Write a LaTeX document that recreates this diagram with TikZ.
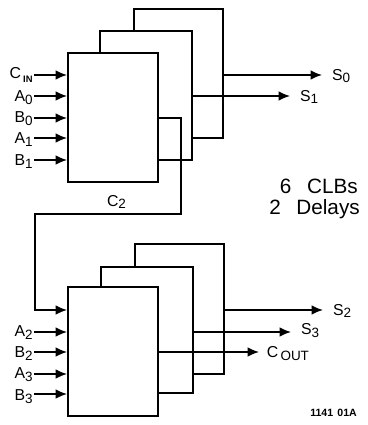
\documentclass[tikz,border=0pt]{standalone}
\usepackage{fontspec}
\setmainfont{Liberation Sans}
\usetikzlibrary{positioning,arrows.meta,calc}
\newcommand{\lowtxt}[2][-2.5pt]{\raisebox{#1}{\fontsize{11.5}{13}\selectfont #2}}

\begin{document}
\begin{tikzpicture}[
  x=0.03cm,y=-0.03cm,
  font=\fontsize{13.5}{15}\selectfont,
  >={Latex[length=3.4mm,width=2.9mm]},
  clb/.style={draw=black,line width=1.6pt,fill=white,inner sep=0pt,minimum width=2.7cm,minimum height=3.87cm},
  wire/.style={line width=1.5pt,black,line join=miter},
  flow/.style={wire,->},
  inlab/.style={anchor=east,inner xsep=1pt,inner ysep=0pt},
  outlab/.style={anchor=west,inner xsep=8.5pt,inner ysep=0pt},
  bigtxt/.style={anchor=east,inner sep=0pt,font=\fontsize{17.7}{20}\selectfont},
]
\useasboundingbox (0,0) rectangle (367,425);

% ---------- TOP BLOCK ----------
\node[clb] (clbA) at (113,117.5) {};
\coordinate (tA1) at (100,53);
\coordinate (tA2) at (134,31);
\coordinate (rA1) at (192,160);
\coordinate (rA2) at (223,138);

% ---------- BOTTOM BLOCK ----------
\node[clb] (clbB) at (113,351.5) {};
\coordinate (tB1) at (101,286);
\coordinate (tB2) at (135,267);
\coordinate (rB1) at (193,393);
\coordinate (rB2) at (224,374);

% ---------- INPUT LABELS ----------
\node[inlab] (cin) at (34,75) {C\lowtxt[-3pt]{\,\fontsize{8}{9}\selectfont\bfseries IN}};
\node[inlab] (a0) at (34,98) {A\lowtxt{0}};
\node[inlab] (b0) at (34,119) {B\lowtxt{0}};
\node[inlab] (a1) at (34,140) {A\lowtxt{1}};
\node[inlab] (b1) at (34,162) {B\lowtxt{1}};

\node[inlab] (a2) at (34,333) {A\lowtxt{2}};
\node[inlab] (b2) at (34,354) {B\lowtxt{2}};
\node[inlab] (a3) at (34,375) {A\lowtxt{3}};
\node[inlab] (b3) at (34,397) {B\lowtxt{3}};

% ---------- OUTPUT LABELS ----------
\node[outlab] (s0) at (322,76) {S\lowtxt[-1pt]{0}};
\node[outlab] (s1) at (290,97) {S\lowtxt{1}};
\node[outlab] (s2) at (323,311) {S\lowtxt{2}};
\node[outlab] (s3) at (291,331) {S\lowtxt{3}};
\node[outlab,inner xsep=6.5pt] (cout) at (259,354) {C\lowtxt{\,OUT}};

% ---------- INPUT ARROWS ----------
\draw[flow] (cin.east) -- (cin.east-|clbA.west);
\draw[flow] (34,96) coordinate (ia0) -- (ia0-|clbA.west);
\draw[flow] (34,118) coordinate (ib0) -- (ib0-|clbA.west);
\draw[flow] (34,138) coordinate (ia1) -- (ia1-|clbA.west);
\draw[flow] (34,160) coordinate (ib1) -- (ib1-|clbA.west);

\draw[flow] (34,332) coordinate (ia2) -- (ia2-|clbB.west);
\draw[flow] (34,352) coordinate (ib2) -- (ib2-|clbB.west);
\draw[flow] (34,374) coordinate (ia3) -- (ia3-|clbB.west);
\draw[flow] (34,394) coordinate (ib3) -- (ib3-|clbB.west);

% ---------- TOP WIRES ----------
\draw[wire] (tA1) |- (tA2|-0,31) -| (rA1) -- (rA1-|clbA.east);
\draw[wire] (tA2) |- (223,9) -- (rA2) -- (rA2-|rA1);

\draw[flow] (223,75) coordinate (jS0) -- (jS0-|s0.west);
\draw[flow] (192,96) coordinate (jS1) -- (jS1-|s1.west);

% ---------- CARRY ----------
\node[inner sep=0pt] (c2) at (116.5,202) {C\lowtxt{2}};
\coordinate (cA) at (clbA.east|-0,118);
\coordinate (cB) at (clbB.west|-0,310);
\draw[flow] (cA) -| (181,214) -| (35,310) -- (cB);

% ---------- BOTTOM WIRES ----------
\draw[wire] (tB1) |- (tB2|-0,267) -| (rB1) -- (rB1-|clbB.east);
\draw[wire] (tB2) |- (224,244) -- (rB2) -- (rB2-|rB1);

\draw[flow] (224,310) coordinate (jS2) -- (jS2-|s2.west);
\draw[flow] (193,332) coordinate (jS3) -- (jS3-|s3.west);
\draw[flow] (clbB.east|-0,352) coordinate (jC) -- (jC-|cout.west);

% ---------- NOTES ----------
\node[bigtxt] (clbs) at (358,186) {6\hspace{0.75em}CLBs};
\node[bigtxt] (delays) at (360,209) {2\hspace{0.75em}Delays};
\node[anchor=east,inner sep=0pt,font=\fontsize{9}{10}\selectfont\bfseries] (fignum) at (357,413) {1141\hspace{0.4em}01A};

\end{tikzpicture}
\end{document}
